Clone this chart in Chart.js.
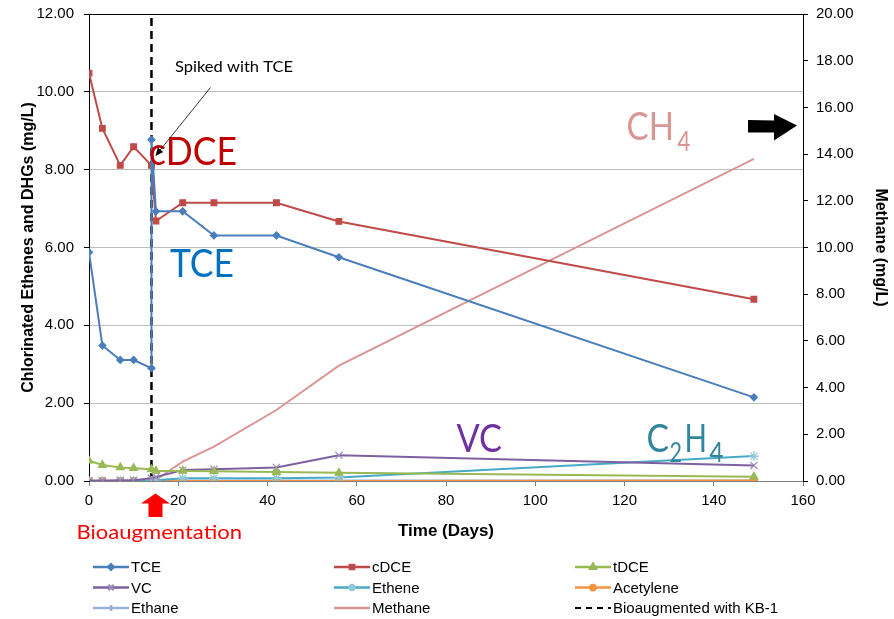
<!DOCTYPE html>
<html>
<head>
<meta charset="utf-8">
<title>Bioaugmentation</title>
<script src="https://cdn.jsdelivr.net/npm/chart.js@4.4.1/dist/chart.umd.min.js"></script>
<style>
  html, body { margin: 0; padding: 0; background: #fff; }
  #wrap { width: 894px; height: 619px; }
</style>
</head>
<body>
<div id="wrap"><canvas id="chart" width="894" height="619"></canvas></div>
<script>
// --- data ---
const days = [0, 3, 7, 10, 14, 15, 21, 28, 42, 56, 149];
// TCE has two readings on day 14 (before and after the spike)
const tceDays = [0, 3, 7, 10, 14, 14, 15, 21, 28, 42, 56, 149];
const tce = [5.88, 3.48, 3.11, 3.11, 2.90, 8.77, 6.93, 6.93, 6.31, 6.31, 5.75, 2.15];
const cdce = [10.48, 9.06, 8.11, 8.59, 8.11, 6.68, 7.15, 7.15, 7.15, 6.67, 4.67];
const tdce = [0.52, 0.41, 0.35, 0.33, 0.30, 0.26, 0.26, 0.25, 0.23, 0.21, 0.11];
const vc = [0.01, 0.01, 0.02, 0.02, 0.07, 0.10, 0.28, 0.30, 0.35, 0.66, 0.40];
const ethene = [0, 0, 0, 0, 0, 0.02, 0.07, 0.07, 0.07, 0.09, 0.64];
const acetylene = [0, 0, 0, 0, 0, 0, 0, 0, 0, 0, 0.01];
const ethane = [0, 0, 0, 0, 0, 0, 0.01, 0.01, 0.01, 0.01, 0.01];
const methane = [0, 0, 0, 0, 0, 0.05, 0.83, 1.47, 3.04, 4.94, 13.8];   // right axis
const bioaugDay = 14;
const bioaugSpan = [0, 12];

const xTicks = { min: 0, max: 160, step: 20 };
const yLeftTicks = { min: 0, max: 12, step: 2 };
const yRightTicks = { min: 0, max: 20, step: 2 };

const pts = (xs, ys) => xs.map((x, i) => ({ x: x, y: ys[i] }));

const FONT = "'Liberation Sans', Arial, sans-serif";

function series(label, xs, ys, color, style, radius, extra) {
    return Object.assign({
        label: label,
        data: pts(xs, ys),
        borderColor: color,
        backgroundColor: color,
        borderWidth: 2,
        pointStyle: style,
        pointRadius: radius,
        pointHoverRadius: radius,
        pointBackgroundColor: color,
        pointBorderColor: color,
        pointBorderWidth: 1.2,
        tension: 0,
        yAxisID: 'y'
    }, extra || {});
}

const datasets = [
    series('TCE', tceDays, tce, '#4A7EBB', 'rectRot', 3.5),
    series('cDCE', days, cdce, '#BE4B48', 'rect', 4),
    series('tDCE', days, tdce, '#98B954', 'triangle', 4.5),
    series('VC', days, vc, '#7D60A0', 'crossRot', 5, { pointBorderColor: '#9D8AB8' }),
    series('Ethene', days, ethene, '#46AAC5', 'star', 5, { pointBorderColor: '#8CCAD9' }),
    series('Acetylene', days, acetylene, '#F69240', 'circle', 3.5),
    series('Ethane', days, ethane, '#95B3D7', 'line', 4, { pointRotation: 90 }),
    series('Methane', days, methane, '#D99694', false, 0, { yAxisID: 'y2' }),
    {
        label: 'Bioaugmented with KB-1',
        data: pts([bioaugDay, bioaugDay], bioaugSpan),
        borderColor: '#000',
        backgroundColor: '#000',
        borderWidth: 2.5,
        borderDash: [8, 5],
        pointRadius: 0,
        yAxisID: 'y'
    }
];

// text drawn squeezed to a given width (Calibri look)
function fitText(ctx, text, left, baseline, size, width, color) {
    ctx.save();
    ctx.font = size + "px Lato, 'Open Sans', sans-serif";
    ctx.fillStyle = color;
    ctx.textBaseline = 'alphabetic';
    ctx.textAlign = 'left';
    const w = ctx.measureText(text).width;
    ctx.translate(left, baseline);
    ctx.scale(width / w, 1);
    ctx.fillText(text, 0, 0);
    ctx.restore();
}

// keep the plot box fixed: no extra room for the end tick labels
function noLabelPad(s) {
    s.paddingTop = 0;
    s.paddingBottom = 0;
}

const annotations = {
    id: 'annotations',
    afterDatasetsDraw(chart) {
        const ctx = chart.ctx;
        const a = chart.chartArea;

        // top frame of the plot
        ctx.save();
        ctx.strokeStyle = '#000';
        ctx.lineWidth = 1;
        ctx.beginPath();
        ctx.moveTo(a.left, a.top + 0.5);
        ctx.lineTo(a.right, a.top + 0.5);
        ctx.stroke();
        ctx.restore();

        fitText(ctx, 'cDCE', 149, 164.5, 39, 88, '#C00000');
        fitText(ctx, 'TCE', 170, 276.5, 39, 64, '#0070C0');
        fitText(ctx, 'VC', 456.5, 451.5, 39, 45.5, '#7030A0');
        fitText(ctx, 'CH', 626.5, 140, 39, 47.5, '#D99694');
        fitText(ctx, '4', 677.5, 150.5, 27, 13, '#D99694');
        fitText(ctx, 'C', 646.5, 451.5, 39, 22.5, '#31859C');
        fitText(ctx, '2', 669.5, 461.5, 27, 12.5, '#31859C');
        fitText(ctx, 'H', 684.5, 451.5, 39, 22.5, '#31859C');
        fitText(ctx, '4', 709.5, 461.5, 27, 14, '#31859C');
        fitText(ctx, 'Spiked with TCE', 175, 71.5, 16, 118, '#000');

        // pointer to the spike
        ctx.save();
        ctx.strokeStyle = '#000';
        ctx.fillStyle = '#000';
        ctx.lineWidth = 0.8;
        ctx.beginPath();
        ctx.moveTo(210.5, 87.5);
        ctx.lineTo(157, 154);
        ctx.stroke();
        const ang = Math.atan2(154 - 87.5, 157 - 210.5);
        ctx.translate(155.5, 156);
        ctx.rotate(ang);
        ctx.beginPath();
        ctx.moveTo(0, 0);
        ctx.lineTo(-8, -3.5);
        ctx.lineTo(-8, 3.5);
        ctx.closePath();
        ctx.fill();
        ctx.restore();

        // black arrow towards the methane axis
        ctx.save();
        ctx.fillStyle = '#000';
        ctx.beginPath();
        ctx.moveTo(748, 120);
        ctx.lineTo(774, 120.5);
        ctx.lineTo(774, 114);
        ctx.lineTo(797, 125.5);
        ctx.lineTo(774, 140.5);
        ctx.lineTo(774, 132.5);
        ctx.lineTo(748, 132.5);
        ctx.closePath();
        ctx.fill();
        ctx.restore();
    },
    afterDraw(chart) {
        const ctx = chart.ctx;
        // red arrow + caption under day 14
        const ax = chart.scales.x.getPixelForValue(bioaugDay) + 4;
        ctx.save();
        ctx.fillStyle = '#FF0000';
        ctx.beginPath();
        ctx.moveTo(ax, 493.5);
        ctx.lineTo(ax + 14.5, 503.5);
        ctx.lineTo(ax + 7, 503.5);
        ctx.lineTo(ax + 7, 517);
        ctx.lineTo(ax - 7, 517);
        ctx.lineTo(ax - 7, 503.5);
        ctx.lineTo(ax - 14.5, 503.5);
        ctx.closePath();
        ctx.fill();
        ctx.restore();
        fitText(ctx, 'Bioaugmentation', 76.5, 538.5, 19, 165.5, '#FF0000');

        // legend, 3 columns
        const cols = [93, 334, 575];
        const rows = [567, 587.5, 608];
        chart.data.datasets.forEach(function (ds, i) {
            const x = cols[i % 3];
            const y = rows[Math.floor(i / 3)];
            ctx.save();
            ctx.strokeStyle = ds.borderColor;
            ctx.lineWidth = ds.borderDash ? 2 : 2.5;
            ctx.setLineDash(ds.borderDash ? [6, 5] : []);
            ctx.beginPath();
            ctx.moveTo(x, y);
            ctx.lineTo(x + 36, y);
            ctx.stroke();
            ctx.setLineDash([]);
            if (ds.pointRadius > 0) {
                ctx.fillStyle = ds.pointBackgroundColor;
                ctx.strokeStyle = ds.pointBorderColor;
                Chart.helpers.drawPoint(ctx, {
                    pointStyle: ds.pointStyle,
                    radius: ds.pointRadius * 0.75,
                    rotation: ds.pointRotation || 0,
                    borderWidth: 1
                }, x + 18, y);
            }
            ctx.fillStyle = '#000';
            ctx.font = '15px ' + FONT;
            ctx.textBaseline = 'middle';
            ctx.textAlign = 'left';
            ctx.fillText(ds.label, x + 38, y + 1);
            ctx.restore();
        });
    }
};

new Chart(document.getElementById('chart'), {
    type: 'line',
    data: { datasets: datasets },
    options: {
        responsive: false,
        animation: false,
        events: [],
        layout: { padding: { top: 14, left: 0, right: 0, bottom: 0 } },
        plugins: {
            legend: { display: false },
            tooltip: { enabled: false }
        },
        scales: {
            x: {
                type: 'linear',
                min: xTicks.min,
                max: xTicks.max,
                afterFit: function (s) { s.height = 138; s.paddingLeft = 0; s.paddingRight = 0; },
                ticks: {
                    stepSize: xTicks.step,
                    padding: 6,
                    color: '#000',
                    font: { family: FONT, size: 15 }
                },
                grid: { drawOnChartArea: false, tickLength: 5, tickColor: '#808080' },
                border: { color: '#808080', width: 1 },
                title: {
                    display: true,
                    text: 'Time (Days)',
                    color: '#000',
                    font: { family: FONT, size: 17, weight: 'bold' },
                    padding: { top: 0, bottom: 77 }
                }
            },
            y: {
                position: 'left',
                min: yLeftTicks.min,
                max: yLeftTicks.max,
                afterFit: function (s) { s.width = 89; noLabelPad(s); },
                ticks: {
                    stepSize: yLeftTicks.step,
                    padding: 10,
                    color: '#000',
                    font: { family: FONT, size: 15 },
                    callback: function (v) { return v.toFixed(2); }
                },
                grid: { color: '#BEBEBE', lineWidth: 1, tickLength: 5, tickColor: '#000' },
                border: { color: '#000', width: 1 },
                title: {
                    display: true,
                    text: 'Chlorinated Ethenes and DHGs (mg/L)',
                    color: '#000',
                    font: { family: FONT, size: 16, weight: 'bold' },
                    padding: { top: 19, bottom: 0 }
                }
            },
            y2: {
                position: 'right',
                min: yRightTicks.min,
                max: yRightTicks.max,
                afterFit: function (s) { s.width = 91; noLabelPad(s); },
                ticks: {
                    stepSize: yRightTicks.step,
                    padding: 8,
                    color: '#000',
                    font: { family: FONT, size: 15 },
                    callback: function (v) { return v.toFixed(2); }
                },
                grid: { drawOnChartArea: false, tickLength: 5, tickColor: '#000' },
                border: { color: '#000', width: 1 },
                title: {
                    display: true,
                    text: 'Methane (mg/L)',
                    color: '#000',
                    font: { family: FONT, size: 16, weight: 'bold' },
                    padding: { top: 4, bottom: 0 }
                }
            }
        }
    },
    plugins: [annotations]
});
</script>
</body>
</html>
